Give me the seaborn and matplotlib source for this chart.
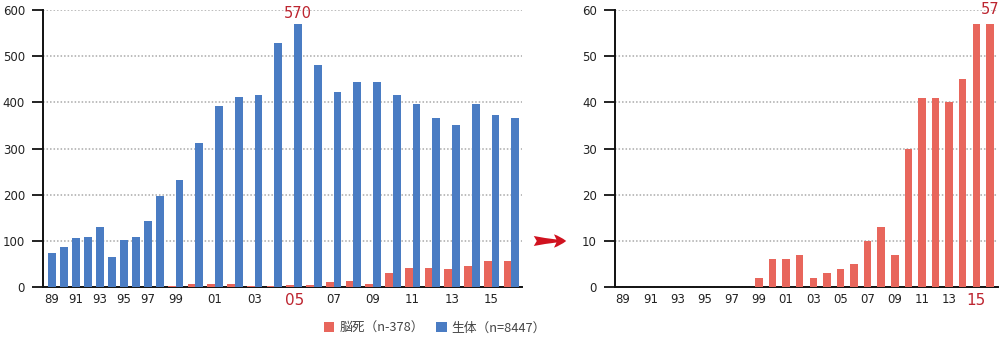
import numpy as np
import pandas as pd
import matplotlib
matplotlib.use("Agg")
import matplotlib.pyplot as plt
from matplotlib.patches import FancyArrowPatch
import seaborn as sns

# Liver transplants per year, 1989-2016
years = list(range(1989, 2017))
year_labels = [f"{y % 100:02d}" for y in years]
living = [74, 87, 106, 108, 129, 65, 102, 108, 142, 198,
          231, 311, 391, 411, 416, 529, 570, 480, 422, 443,
          443, 416, 397, 365, 350, 397, 372, 365]
deceased = [0, 0, 0, 0, 0, 0, 0, 0, 0, 0,
            2, 6, 6, 7, 2, 3, 4, 5, 10, 13,
            7, 30, 41, 41, 40, 45, 57, 57]
legend_labels = ["脳死（n-378）", "生体（n=8447）"]
peak_year = 2005
recent_year = 2015

BLUE = "#4a7cc3"
RED = "#e8665c"
DARK_RED = "#bd2530"
GRID = "#a9a9a9"

sns.set_theme(style="white")
plt.rcParams["font.family"] = ["DejaVu Sans", "Noto Sans CJK JP"]

fig = plt.figure(figsize=(10, 3.38), dpi=100)
ax1 = fig.add_axes([0.043, 0.1509, 0.479, 0.8195])
ax2 = fig.add_axes([0.615, 0.1509, 0.383, 0.8195])

# Left panel layout: years without deceased-donor cases hold one bar,
# the others hold a pair (deceased on the left, living on the right).
bar_w = 1.0
gap = 0.55
nbars = np.array([1 if d == 0 else 2 for d in deceased])
slot_left = np.concatenate([[0.0], np.cumsum(nbars * bar_w + gap)[:-1]])
living_x = slot_left + (nbars - 1) * bar_w + bar_w / 2
deceased_x = slot_left + bar_w / 2
group_center = slot_left + nbars * bar_w / 2

df = pd.DataFrame({"year": years, "label": year_labels,
                   "living": living, "deceased": deceased,
                   "x_living": living_x, "x_deceased": deceased_x,
                   "center": group_center})
df_dec = df[df["deceased"] > 0]

min_live = np.min(np.diff(df["x_living"]))
min_dec = np.min(np.diff(df_dec["x_deceased"]))

sns.barplot(data=df_dec, x="x_deceased", y="deceased", native_scale=True,
            color=RED, width=bar_w / min_dec, saturation=1, errorbar=None,
            linewidth=0, label=legend_labels[0], ax=ax1, zorder=3)
sns.barplot(data=df, x="x_living", y="living", native_scale=True,
            color=BLUE, width=bar_w / min_live, saturation=1, errorbar=None,
            linewidth=0, label=legend_labels[1], ax=ax1, zorder=3)

ax1.set_xlim(slot_left[0] - 0.645, slot_left[-1] + nbars[-1] * bar_w + 0.39)
ax1.set_ylim(0, 600)
ax1.set_yticks(range(0, 601, 100))

odd = df[df["year"] % 2 == 1]
tick_x = [r.x_living if r.deceased == 0 else r.center for r in odd.itertuples()]
ax1.set_xticks(tick_x)
ax1.set_xticklabels(odd["label"])

# Right panel: deceased-donor cases on their own scale
sns.barplot(x=year_labels, y=deceased, order=year_labels, color=RED,
            width=0.55, saturation=1, linewidth=0, errorbar=None, ax=ax2, zorder=3)
ax2.set_xlim(-0.6, len(years) - 0.4)
ax2.set_ylim(0, 60)
ax2.set_yticks(range(0, 61, 10))
ax2.set_xticks(range(0, len(years), 2))
ax2.set_xticklabels(year_labels[::2])

for ax in (ax1, ax2):
    sns.despine(ax=ax)
    ax.spines["left"].set_linewidth(1.4)
    ax.spines["bottom"].set_linewidth(1.4)
    ax.spines["left"].set_color("#111111")
    ax.spines["bottom"].set_color("#111111")
    ax.set_axisbelow(True)
    ax.yaxis.grid(True, color=GRID, linestyle=(0, (1, 1.3)), linewidth=1.1)
    ax.xaxis.grid(False)
    ax.tick_params(axis="y", direction="out", length=8, width=1.3,
                   color="#111111", pad=5, labelsize=8.5, labelcolor="#222222",
                   left=True)
    ax.tick_params(axis="x", length=0, pad=4, labelsize=8.5, labelcolor="#222222")
    ax.set_xlabel("")
    ax.set_ylabel("")
    lg = ax.get_legend()
    if lg is not None:
        lg.remove()

# Highlighted years and peak values
peak_i = years.index(peak_year)
recent_i = years.index(recent_year)
for t in ax1.get_xticklabels():
    if t.get_text() == year_labels[peak_i]:
        t.set_color(DARK_RED)
        t.set_fontsize(11)
for t in ax2.get_xticklabels():
    if t.get_text() == year_labels[recent_i]:
        t.set_color(DARK_RED)
        t.set_fontsize(11)

ax1.text(living_x[peak_i], living[peak_i] + 6, f"{living[peak_i]}",
         ha="center", va="bottom", color=DARK_RED, fontsize=10.5, clip_on=False)
ax2.text(len(years) - 1, deceased[-1] + 1.4, f"{deceased[-1]}",
         ha="center", va="bottom", color=DARK_RED, fontsize=10.5, clip_on=False)

# Arrow pointing from the overview to the detail panel
fig.add_artist(FancyArrowPatch((0.531, 0.287), (0.569, 0.287),
                               transform=fig.transFigure,
                               arrowstyle="fancy,head_length=0.55,head_width=0.6,tail_width=0.45",
                               mutation_scale=16, color="#d0121f", linewidth=0))

handles, labels = ax1.get_legend_handles_labels()
fig.legend(handles, labels, loc="center", bbox_to_anchor=(0.435, 0.03),
           ncol=2, frameon=False, handlelength=0.8,
           prop={"family": ["Noto Sans CJK JP", "DejaVu Sans"], "size": 9.2},
           handleheight=0.8, handletextpad=0.4, columnspacing=1.0,
           labelcolor="#444444", borderaxespad=0)

fig.savefig("out.png", dpi=100)
